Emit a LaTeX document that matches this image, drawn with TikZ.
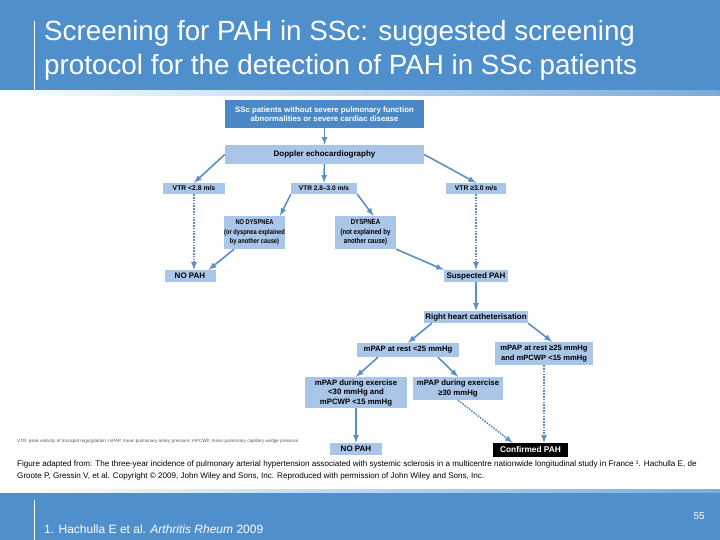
\documentclass[tikz,border=0pt]{standalone}
\usepackage{fontspec}
\setmainfont{Liberation Sans}
\newfontfamily\narrowsans[FakeStretch=0.82]{Liberation Sans}
\usetikzlibrary{arrows,positioning}

\definecolor{slideblue}{HTML}{4F8FCB}
\definecolor{boxblue}{HTML}{A9C5E8}
\definecolor{topblue}{HTML}{4A88C6}
\definecolor{arrowblue}{HTML}{5C8FC3}

\newcommand{\boxfont}[1]{\fontsize{#1}{9.5}\selectfont\bfseries}
\newcommand{\narrowfont}[1]{\fontsize{#1}{9.5}\narrowsans\bfseries}

\begin{document}
\begin{tikzpicture}[x=1pt,y=-1pt]

\tikzset{flow box/.style={
    fill=boxblue,
    inner sep=0pt,
    align=center,
    font=\boxfont{#1}
  },
  flow box/.default=8,
  narrow box/.style={flow box, font=\narrowfont{#1}},
  top box/.style={flow box=7.8, fill=topblue, text=white},
  final box/.style={flow box=8.3, fill=black, text=white},
  flow arrow/.style={-latex, line width=1.6pt, draw=arrowblue},
  dotted arrow/.style={flow arrow, dash pattern=on 1.6pt off 1.2pt}
}

\useasboundingbox[fill=white] (0,0) rectangle (720,540);

% slide frame
\fill[slideblue] (0,0) rectangle (720,91);
\shade[left color=white, right color=slideblue!75] (0,91) rectangle (720,96);
\draw[white, line width=0.8pt] (34,21) -- (34,91);
\node[anchor=north west, align=left, text=white, inner sep=0pt,
  font=\fontsize{27.8}{34}\selectfont] (title) at (44,20)
  {Screening for PAH in SSc: suggested screening\\
   protocol for the detection of PAH in SSc patients};

\shade[left color=white, right color=slideblue!75] (0,489) rectangle (720,494);
\fill[slideblue] (0,493) rectangle (720,540);
\draw[white, line width=0.8pt] (34,500) -- (34,540);
\node[anchor=base west, text=white, inner sep=0pt,
  font=\fontsize{12}{14}\selectfont] (ref) at (44,533)
  {1. Hachulla E et al. \textit{Arthritis Rheum} 2009};
\node[anchor=base east, text=white, inner sep=0pt,
  font=\fontsize{10}{12}\selectfont] (page) at (705,519) {55};

% flow chart
\node[top box, minimum width=199pt, minimum height=28pt] (top) at (324.5,114)
  {SSc patients without severe pulmonary function\\abnormalities or severe cardiac disease};
\node[flow box, minimum width=199pt, minimum height=19pt] (dop) at (324.5,154.5)
  {Doppler echocardiography};

\node[flow box=6.8, minimum width=62pt, minimum height=11pt] (vlow) at (194,188.5)
  {VTR <2.8 m/s};
\node[flow box=6.6, minimum width=66pt, minimum height=11pt] (vmid) at (324,188.5)
  {VTR 2.8–3.0 m/s};
\node[flow box=6.8, minimum width=60pt, minimum height=11pt] (vhigh) at (476,188.5)
  {VTR ≥3.0 m/s};

\node[narrow box=7, minimum width=59pt, minimum height=33pt] (nodysp) at (254.5,232.5)
  {NO DYSPNEA\\(or dyspnea explained\\by another cause)};
\node[narrow box=7.4, minimum width=61pt, minimum height=33pt] (dysp) at (365.5,232.5)
  {DYSPNEA\\(not explained by\\another cause)};

\node[flow box, minimum width=51pt, minimum height=12pt] (nopaha) at (190,276)
  {NO PAH};
\node[flow box, minimum width=64pt, minimum height=12pt] (susp) at (476,276)
  {Suspected PAH};
\node[flow box, minimum width=104pt, minimum height=12pt] (rhc) at (476,317)
  {Right heart catheterisation};

\node[flow box=7.7, minimum width=102pt, minimum height=14pt] (resta) at (408,350)
  {mPAP at rest <25 mmHg};
\node[flow box=7.6, minimum width=98pt, minimum height=23pt] (restb) at (544,353.5)
  {mPAP at rest ≥25 mmHg\\and mPCWP <15 mmHg};

\node[flow box=7.8, minimum width=102pt, minimum height=31pt] (exa) at (356,392.5)
  {mPAP during exercise\\<30 mmHg and\\mPCWP <15 mmHg};
\node[flow box=7.8, minimum width=90pt, minimum height=23pt] (exb) at (458,388.5)
  {mPAP during exercise\\≥30 mmHg};

\node[flow box, minimum width=52pt, minimum height=12pt] (nopahb) at (356,449)
  {NO PAH};
\node[final box, minimum width=75pt, minimum height=14pt] (conf) at (530.5,450)
  {Confirmed PAH};

\draw[flow arrow] (top) -- (dop);
\draw[flow arrow] (dop.west) -- (vlow.north);
\draw[flow arrow] (dop) -- (vmid);
\draw[flow arrow] (dop.east) -- (vhigh.north);
\draw[flow arrow] (vmid.south west) -- ([xshift=-5pt]nodysp.north east);
\draw[flow arrow] (vmid.south east) -- ([xshift=8pt]dysp.north);
\draw[dotted arrow] (vlow.south) -- (vlow.south |- nopaha.north);
\draw[dotted arrow] (vhigh.south) -- (vhigh.south |- susp.north);
\draw[flow arrow] ([xshift=10pt]nodysp.south west) -- ([xshift=-7pt]nopaha.north east);
\draw[flow arrow] (dysp.south east) -- (susp.north west);
\draw[flow arrow] (susp) -- (rhc);
\draw[flow arrow] ([xshift=8pt]rhc.south west) -- (resta.north);
\draw[flow arrow] (rhc.south east) -- ([xshift=8pt]restb.north);
\draw[flow arrow] ([xshift=-30pt]resta.south) -- (exa.north);
\draw[flow arrow] ([xshift=30pt]resta.south) -- (exb.north);
\draw[flow arrow] (exa) -- (nopahb);
\draw[dotted arrow] (exb.south) -- ([xshift=-18pt]conf.north);
\draw[dotted arrow] (restb.south) -- (restb.south |- conf.north);

% notes
\node[anchor=base west, inner sep=0pt, text=black!65,
  font=\fontsize{4.6}{5}\selectfont] (abbr) at (17,442)
  {VTR, peak velocity of tricuspid regurgitation; mPAP, mean pulmonary artery pressure; mPCWP, mean pulmonary capillary wedge pressure.};
\node[anchor=north west, align=left, inner sep=0pt,
  font=\fontsize{8.1}{12}\selectfont] (caption) at (17,460)
  {Figure adapted from: The three-year incidence of pulmonary arterial hypertension associated with systemic sclerosis in a multicentre nationwide longitudinal study in France ¹. Hachulla E, de\\
   Groote P, Gressin V, et al. Copyright © 2009, John Wiley and Sons, Inc. Reproduced with permission of John Wiley and Sons, Inc.};

\end{tikzpicture}
\end{document}
